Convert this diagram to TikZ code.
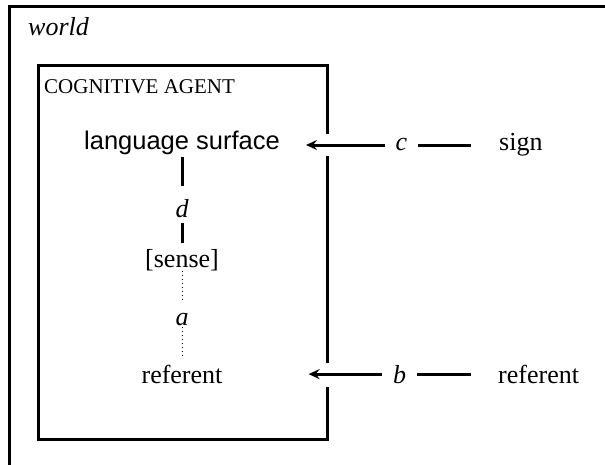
\documentclass[tikz,border=0pt]{standalone}
\usepackage{fontspec}
\setmainfont{Liberation Serif}
\setsansfont{Liberation Sans}
\usetikzlibrary{arrows.meta}
\begin{document}
\begin{tikzpicture}[x=1pt,y=-1pt,
  txt/.style={inner sep=0pt, font=\fontsize{26}{30}\selectfont},
  lbl/.style={inner ysep=0pt, inner xsep=11pt, font=\fontsize{26}{30}\selectfont\itshape},
  frame/.style={line width=3pt},
  link/.style={line width=3pt},
  dotlink/.style={line width=1pt, dash pattern=on 1pt off 3pt},
  arr/.style={line width=3pt, -{Stealth[length=11pt,width=10pt,inset=4pt]}},
]
\useasboundingbox (0,0) rectangle (605,465);
% world frame (top and left sides only)
\draw[frame] (9,465) -- (9,7) -- (605,7);
% cognitive agent box, right side interrupted by the arrows
\draw[frame] (327,134) -- (327,66) -- (38,66) -- (38,439) -- (327,439) -- (327,387);
\draw[frame] (327,156) -- (327,363);
% labels
\node[txt, anchor=base west, font=\fontsize{26}{30}\selectfont\itshape] (world) at (28,36) {world};
\node[txt, anchor=base west, font=\fontsize{21}{25}\selectfont] (agent) at (44,94) {COGNITIVE AGENT};
% left column
\node[txt, anchor=base, font=\sffamily\fontsize{25.5}{30}\selectfont] (ls) at (182,150) {language surface};
\node[lbl, anchor=base, inner ysep=5pt] (d) at (182,218) {d};
\node[txt, anchor=base] (sense) at (182,267) {[sense]};
\node[lbl, anchor=base] (a) at (182,325) {a};
\node[txt, anchor=base] (ref) at (182,383) {referent};
\draw[link, shorten <=1.5pt, shorten >=9pt] (ls.south) -- (d.north);
\draw[link, shorten >=6pt] (d.south) -- (sense.north);
\draw[dotlink, shorten >=10pt] (sense.south) -- (a.north);
\draw[dotlink, shorten <=2pt, shorten >=7pt] (a.south) -- (ref.north);
% right side
\node[lbl, anchor=base] (c) at (401.5,151) {c};
\node[txt, anchor=base west] (sign) at (499,151) {sign};
\node[lbl, anchor=base] (b) at (399.5,383) {b};
\node[txt, anchor=base west] (ref2) at (498,383) {referent};
\draw[arr, shorten >=26pt] (c.west) -- (c.west -| ls.east);
\draw[link, shorten >=28pt] (c.east) -- (c.east -| sign.west);
\draw[arr, shorten >=86pt] (b.west) -- (b.west -| ref.east);
\draw[link, shorten >=27pt] (b.east) -- (b.east -| ref2.west);
\end{tikzpicture}
\end{document}
